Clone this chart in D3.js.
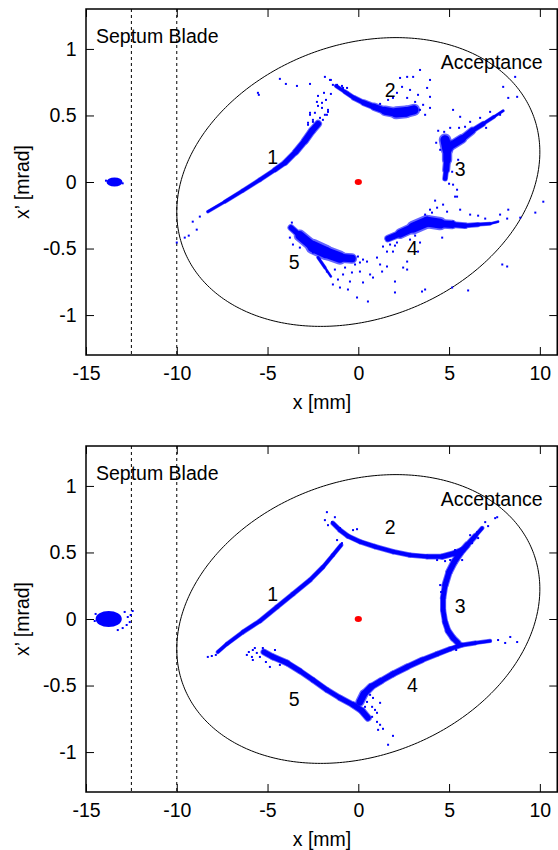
<!DOCTYPE html>
<html><head><meta charset="utf-8">
<script src="https://cdn.jsdelivr.net/npm/d3@7"></script>
<style>body{margin:0;background:#fff}svg{display:block}text{font-family:"Liberation Sans",Arial,Helvetica,sans-serif;fill:#000}</style>
</head><body><svg id="c" width="558" height="850"></svg>
<script>
// ---------- axes / annotations ----------
const xTicks=[-15,-10,-5,0,5,10];
const yTicks=[-1,-0.5,0,0.5,1];
const xDomain=[-15,11], yDomain=[-1.3,1.3];
const septumLines=[-12.5,-10];
const acceptance={xMax:10, xpMax:1.085, xpAtXMax:0.225};
const labelText=["1","2","3","4","5"];
const labelX=[-4.72,1.75,5.61,2.98,-3.53];
const labelY=[0.19,0.692,0.095,-0.5,-0.605];
const septumLabel={text:"Septum Blade",x:-14.45,y:1.043};
const acceptLabel={text:"Acceptance",x:4.54,y:0.852};
const beamCore=[0,0];

// ---------- top panel: [x, x', spread] core bands and scattered particles ----------
const topBlob=[-13.43,0,0.44,0.034];
const topBlobPts=[[-13.9,0.01],[-12.98,-0.01]];
const topArm1Core=[[-8.29,-0.223,0.02],[-7.35,-0.148,0.025],[-6.36,-0.065,0.03],[-5.42,0.017,0.03],[-4.59,0.092,0.035],[-4.04,0.145,0.04],[-3.44,0.227,0.045],[-2.94,0.31,0.05],[-2.55,0.385,0.055],[-2.22,0.437,0.05]];
const topArm1Pts=[[-10.0,-0.455],[-9.56,-0.418],[-9.12,-0.298],[-8.73,-0.26],[-8.9,-0.358],[-9.34,-0.403],[-2.66,0.52],[-2.28,0.602],[-2.0,0.557],[-1.67,0.542],[-2.11,0.482],[-2.5,0.467],[-1.84,0.505],[-2.77,0.43],[-2.22,0.647],[-2.0,0.595],[-1.51,0.662],[-1.89,0.67],[-1.78,0.617],[-2.22,0.572],[-1.67,0.527],[-1.73,0.505],[-1.95,0.467],[-2.39,0.52],[-2.66,0.505],[-2.77,0.445],[-2.5,0.452],[-4.32,0.775],[-3.99,0.737],[-5.53,0.67],[-5.48,0.655],[-3.38,0.722],[-2.66,0.737],[-1.84,0.79],[-1.51,0.767]];
const topArm2Core=[[-1.23,0.722,0.025],[-0.73,0.677,0.03],[-0.24,0.632,0.035],[0.31,0.595,0.04],[0.87,0.565,0.05],[1.47,0.535,0.06],[2.08,0.52,0.08],[2.63,0.527,0.09],[3.07,0.542,0.07]];
const topArm2Pts=[[-1.56,0.767],[-1.17,0.73],[-0.9,0.722],[-0.62,0.707],[-1.4,0.73],[-0.84,0.707],[-0.57,0.67],[2.3,0.782],[2.69,0.79],[3.4,0.842],[3.02,0.79],[3.95,0.767],[3.79,0.707],[3.29,0.655],[3.95,0.64],[2.85,0.692],[2.41,0.715],[2.69,0.632],[3.57,0.58],[3.95,0.557],[3.13,0.602],[2.13,0.67],[1.91,0.632],[3.4,0.542],[3.68,0.505],[1.64,0.617],[1.2,0.587]];
const topArm3CoreA=[[4.78,0.317,0.09],[4.89,0.242,0.075],[4.89,0.167,0.06],[4.84,0.092,0.045],[4.78,0.025,0.03]];
const topArm3CoreB=[[4.95,0.26,0.07],[5.72,0.325,0.06],[6.27,0.385,0.045],[6.88,0.437,0.03],[7.48,0.49,0.022],[7.98,0.535,0.018]];
const topArm3Pts=[[5.22,0.542],[5.61,0.49],[5.33,-0.11],[5.44,-0.058],[5.22,-0.02],[8.26,0.632],[8.75,0.64],[7.98,0.715],[8.64,0.79],[4.4,0.385],[4.29,0.295],[5.06,0.407],[5.88,0.415],[6.16,0.452],[6.44,0.392],[6.71,0.482],[7.26,0.527],[5.5,0.167],[5.17,0.077],[5.0,-0.013],[4.51,0.242],[5.55,0.407],[4.73,0.377],[7.81,0.505],[7.04,0.407]];
const topArm4Core=[[1.64,-0.425,0.04],[2.3,-0.388,0.06],[3.02,-0.343,0.08],[3.79,-0.298,0.1],[4.51,-0.313,0.075],[5.17,-0.32,0.05],[5.88,-0.328,0.038],[6.6,-0.32,0.03],[7.26,-0.313,0.022],[7.7,-0.298,0.015]];
const topArm4Pts=[[4.23,-0.14],[4.67,-0.17],[4.89,-0.223],[4.34,-0.193],[5.22,-0.298],[5.61,-0.208],[4.06,-0.23],[1.75,-0.47],[1.91,-0.523],[1.58,-0.523],[2.13,-0.455],[1.36,-0.485],[2.69,-0.598],[2.47,-0.643],[2.69,-0.658],[3.29,-0.523],[4.62,-0.418],[3.4,-0.455],[7.81,-0.245],[8.26,-0.208],[8.2,-0.275],[8.92,-0.268],[7.93,-0.62],[8.2,-0.635],[6.05,-0.815],[5.17,-0.793],[3.68,-0.808],[3.51,-0.823],[5.44,-0.11],[10.19,-0.148],[9.75,-0.23],[6.16,-0.245],[6.6,-0.253],[6.99,-0.275],[3.95,-0.208],[3.68,-0.245],[2.85,-0.433],[2.02,-0.478],[3.13,-0.403]];
const topArm5Core=[[-3.71,-0.343,0.03],[-3.22,-0.403,0.06],[-2.5,-0.485,0.1],[-1.78,-0.53,0.1],[-1.01,-0.568,0.085],[-0.35,-0.575,0.05]];
const topArm5Streak=[[-2.22,-0.568,0.025],[-1.84,-0.643,0.02],[-1.51,-0.71,0.015]];
const topArm5Pts=[[-1.4,-0.77],[-1.01,-0.793],[-0.57,-0.808],[-0.07,-0.868],[0.53,-0.898],[0.26,-0.755],[0.65,-0.695],[1.03,-0.568],[1.2,-0.62],[1.31,-0.673],[1.58,-0.635],[2.02,-0.748],[2.02,-0.83],[0.81,-0.718],[0.09,-0.605],[0.48,-0.598],[0.09,-0.673],[-0.35,-0.68],[-0.46,-0.748],[-0.84,-0.695],[0.26,-0.583],[-0.02,-0.56],[-3.77,-0.418],[-3.6,-0.47],[-3.22,-0.493],[-3.66,-0.305],[-2.5,-0.53],[-2.11,-0.583],[-1.73,-0.673],[-1.29,-0.658],[-0.73,-0.643],[-0.18,-0.62],[-1.12,-0.733]];

// ---------- bottom panel ----------
const botBlob=[-13.75,0,0.72,0.06];
const botBlobPts=[[-12.87,0.053],[-12.7,0.015],[-12.54,0.03],[-12.43,0.06],[-12.59,-0.023],[-12.76,-0.045],[-14.47,0.038],[-14.52,-0.015],[-12.98,-0.068],[-13.25,-0.083]];
const botArm1Core=[[-7.74,-0.248,0.025],[-7.24,-0.188,0.03],[-6.36,-0.098,0.03],[-5.42,-0.015,0.035],[-4.48,0.09,0.035],[-3.6,0.188,0.035],[-2.66,0.293,0.035],[-1.95,0.39,0.03],[-1.4,0.48,0.03],[-0.95,0.555,0.03]];
const botArm1Pts=[[-8.29,-0.285],[-8.07,-0.278],[-7.85,-0.27],[-1.17,0.593],[-0.9,0.57]];
const botArm2Core=[[-1.4,0.72,0.03],[-1.01,0.668,0.035],[-0.57,0.623,0.035],[0.09,0.581,0.035],[0.92,0.544,0.035],[1.91,0.506,0.035],[2.85,0.48,0.035],[3.79,0.469,0.035],[4.62,0.469,0.04],[5.33,0.495,0.045],[5.72,0.518,0.045]];
const botArm2Pts=[[-1.73,0.803],[-1.84,0.743],[-1.45,0.728],[-1.01,0.683],[-0.29,0.668],[-0.07,0.675],[4.78,0.435],[5.06,0.443],[4.34,0.443],[-1.29,0.765],[-1.67,0.705]];
const botArm3Core=[[6.82,0.683,0.025],[6.44,0.623,0.035],[5.99,0.555,0.045],[5.61,0.495,0.05],[5.28,0.428,0.05],[5.0,0.353,0.05],[4.78,0.255,0.045],[4.67,0.158,0.04],[4.67,0.068,0.04],[4.78,-0.023,0.04],[4.95,-0.09,0.045],[5.22,-0.143,0.045],[5.5,-0.18,0.045]];
const botArm3Pts=[[7.54,0.758],[7.65,0.765],[6.99,0.728],[6.55,0.653],[6.27,0.57],[6.16,0.63],[7.15,0.698],[5.33,0.518],[4.51,0.255],[4.56,0.203],[6.6,0.608],[5.72,0.443]];
const botArm4Core=[[0.09,-0.623,0.06],[0.31,-0.563,0.06],[0.7,-0.51,0.05],[1.25,-0.465,0.045],[1.91,-0.413,0.045],[2.69,-0.36,0.045],[3.51,-0.308,0.04],[4.34,-0.263,0.04],[5.06,-0.225,0.035],[5.72,-0.195,0.035],[6.44,-0.18,0.03],[7.26,-0.165,0.025]];
const botArm4Pts=[[7.7,-0.158],[8.37,-0.135],[8.75,-0.173],[6.71,-0.173],[8.09,-0.18],[5.39,-0.233],[6.16,-0.188],[0.48,-0.533],[0.65,-0.57],[0.81,-0.593],[0.48,-0.623],[0.76,-0.66],[0.37,-0.66],[0.92,-0.683],[1.03,-0.705],[0.76,-0.735],[1.03,-0.773],[1.2,-0.795],[1.09,-0.833],[1.36,-0.825],[1.91,-0.878],[1.64,-0.945],[1.2,-0.63]];
const botArm5Core=[[-5.2,-0.248,0.045],[-4.7,-0.285,0.045],[-3.93,-0.33,0.045],[-3.22,-0.39,0.04],[-2.5,-0.458,0.04],[-1.73,-0.533,0.04],[-1.01,-0.593,0.04],[-0.29,-0.645,0.045],[0.2,-0.69,0.05],[0.53,-0.743,0.05]];
const botArm5Pts=[[-6.14,-0.27],[-5.81,-0.233],[-5.7,-0.218],[-5.26,-0.218],[-5.42,-0.285],[-5.81,-0.308],[-5.86,-0.285],[-4.87,-0.36],[-5.59,-0.255],[-6.03,-0.248],[-5.09,-0.323],[-4.32,-0.345],[-4.59,-0.233]];

const panels=[
 {top:9,bottom:355,blob:topBlob,blobPts:topBlobPts,
  cores:[topArm1Core,topArm2Core,topArm3CoreA,topArm3CoreB,topArm4Core,topArm5Core,topArm5Streak],
  pts:[topArm1Pts,topArm2Pts,topArm3Pts,topArm4Pts,topArm5Pts]},
 {top:446,bottom:792,blob:botBlob,blobPts:botBlobPts,
  cores:[botArm1Core,botArm2Core,botArm3Core,botArm4Core,botArm5Core],
  pts:[botArm1Pts,botArm2Pts,botArm3Pts,botArm4Pts,botArm5Pts]}
];

const FS=19.5, BLUE="#0000ff";
const svg=d3.select('#c');
const L=86,R=558;
panels.forEach((p,i)=>{
  const x=d3.scaleLinear().domain(xDomain).range([L,R]);
  const y=d3.scaleLinear().domain(yDomain).range([p.bottom,p.top]);
  const g=svg.append('g');
  const cid='clip'+i;
  svg.append('clipPath').attr('id',cid).append('rect').attr('x',L).attr('y',p.top).attr('width',R-L).attr('height',p.bottom-p.top);
  const d=g.append('g').attr('clip-path',`url(#${cid})`);
  d.selectAll('line.sep').data(septumLines).join('line').attr('class','sep')
    .attr('x1',v=>x(v)).attr('x2',v=>x(v)).attr('y1',p.top).attr('y2',p.bottom)
    .attr('stroke','#000').attr('stroke-width',1).attr('stroke-dasharray','3,3');
  const phi=Math.acos(acceptance.xpAtXMax/acceptance.xpMax);
  const ts=d3.range(0,361).map(k=>k*Math.PI/180);
  const ln=d3.line().x(t=>x(acceptance.xMax*Math.cos(t))).y(t=>y(acceptance.xpMax*Math.cos(t-phi)));
  d.append('path').attr('d',ln(ts)).attr('fill','none').attr('stroke','#000').attr('stroke-width',1);
  const pxPerMrad=y(0)-y(1);
  // dense cores: outer fringe + solid inner core
  [[1.15,0.6],[0.85,1]].forEach(([k,op])=>{
    p.cores.forEach(core=>{
      d.append('g').attr('opacity',op).selectAll('line').data(d3.pairs(core)).join('line')
        .attr('x1',s=>x(s[0][0])).attr('y1',s=>y(s[0][1]))
        .attr('x2',s=>x(s[1][0])).attr('y2',s=>y(s[1][1]))
        .attr('stroke',BLUE).attr('stroke-linecap','round')
        .attr('stroke-width',s=>Math.max(1.5,(s[0][2]+s[1][2])/2*pxPerMrad*k));
    });
  });
  p.pts.concat([p.blobPts]).forEach(arr=>{
    d.append('g').selectAll('rect').data(arr).join('rect')
      .attr('x',q=>x(q[0])-1).attr('y',q=>y(q[1])-1).attr('width',2).attr('height',2).attr('fill',BLUE);
  });
  const b=p.blob;
  d.append('ellipse').attr('cx',x(b[0])).attr('cy',y(b[1]))
    .attr('rx',x(b[0]+b[2])-x(b[0])).attr('ry',y(b[1])-y(b[1]+b[3])).attr('fill',BLUE);
  d.append('ellipse').attr('cx',x(beamCore[0])).attr('cy',y(beamCore[1])).attr('rx',3.6).attr('ry',3).attr('fill','#ff0000');
  d.selectAll('text.arm').data(labelText).join('text').attr('class','arm')
    .attr('x',(t,k)=>x(labelX[k])).attr('y',(t,k)=>y(labelY[k])).attr('dy','0.35em')
    .attr('text-anchor','middle').attr('font-size',FS).text(t=>t);
  g.append('text').attr('x',x(septumLabel.x)).attr('y',y(septumLabel.y)).attr('font-size',FS).text(septumLabel.text);
  g.append('text').attr('x',x(acceptLabel.x)).attr('y',y(acceptLabel.y)).attr('font-size',FS).text(acceptLabel.text);
  const fmt=v=>String(v);
  const ax=g.append('g').attr('transform',`translate(0,${p.bottom})`).call(d3.axisBottom(x).tickValues(xTicks).tickSize(-8).tickPadding(11.5).tickFormat(fmt));
  const ay=g.append('g').attr('transform',`translate(${L},0)`).call(d3.axisLeft(y).tickValues(yTicks).tickSize(-8).tickPadding(9.5).tickFormat(fmt));
  const at=g.append('g').attr('transform',`translate(0,${p.top})`).call(d3.axisTop(x).tickValues(xTicks).tickSize(-8).tickFormat(''));
  const ar=g.append('g').attr('transform',`translate(${R-0.75},0)`).call(d3.axisRight(y).tickValues(yTicks).tickSize(-8).tickFormat(''));
  [ax,ay,at,ar].forEach(a=>{a.select('.domain').remove();a.selectAll('line').attr('stroke','#000').attr('stroke-width',1);
    a.selectAll('text').attr('font-size',FS).attr('font-family','"Liberation Sans",Arial,sans-serif').attr('fill','#000');});
  g.append('rect').attr('x',L).attr('y',p.top).attr('width',R-0.75-L).attr('height',p.bottom-p.top)
    .attr('fill','none').attr('stroke','#000').attr('stroke-width',1.5);
  g.append('text').attr('x',(L+R)/2).attr('y',p.bottom+54).attr('text-anchor','middle').attr('font-size',FS).text('x [mm]');
  g.append('text').attr('transform',`translate(29,${(p.top+p.bottom)/2}) rotate(-90)`).attr('text-anchor','middle').attr('font-size',FS).text('x’ [mrad]');
});
</script></body></html>
